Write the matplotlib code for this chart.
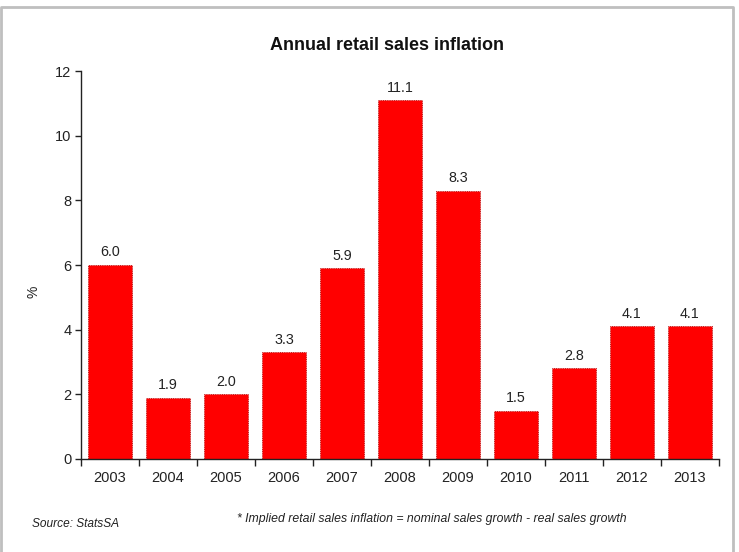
import matplotlib
matplotlib.use("Agg")
import matplotlib.pyplot as plt
from matplotlib.lines import Line2D
from matplotlib.ticker import FixedLocator, NullFormatter

years = ["2003", "2004", "2005", "2006", "2007", "2008", "2009", "2010", "2011", "2012", "2013"]
inflation = [6.0, 1.9, 2.0, 3.3, 5.9, 11.1, 8.3, 1.5, 2.8, 4.1, 4.1]
y_ticks = [0, 2, 4, 6, 8, 10, 12]

plt.rcParams["font.family"] = ["Liberation Sans", "DejaVu Sans"]

W, H = 739, 552
fig = plt.figure(figsize=(W / 100, H / 100), dpi=100)
ax = fig.add_axes([81 / W, 1 - 459 / H, (719 - 81) / W, (459 - 71) / H])

x = list(range(len(years)))
ax.bar(x, inflation, width=0.77, color="#ff0000",
       edgecolor="#a00000", linewidth=0.6, linestyle=":")

for xi, v in zip(x, inflation):
    ax.annotate(f"{v:.1f}", (xi, v), xytext=(0, 4), textcoords="offset points",
                ha="center", va="bottom", fontsize=10.3, color="#222222")

ax.set_xlim(-0.5, len(years) - 0.5)
ax.set_ylim(0, 12)
ax.set_yticks(y_ticks)
ax.set_yticklabels([str(t) for t in y_ticks])

# category boundaries as major ticks, labels centred on minor ticks
ax.xaxis.set_major_locator(FixedLocator([i - 0.5 for i in range(len(years) + 1)]))
ax.xaxis.set_major_formatter(NullFormatter())
ax.xaxis.set_minor_locator(FixedLocator(x))
ax.set_xticklabels(years, minor=True)
ax.tick_params(axis="x", which="major", length=5, width=1, direction="out", color="#222222")
ax.tick_params(axis="x", which="minor", length=0, pad=9, labelsize=10.5, labelcolor="#222222")
ax.tick_params(axis="y", length=4, width=1, direction="out", pad=3,
               labelsize=10.5, labelcolor="#222222", color="#222222")

for s in ("top", "right"):
    ax.spines[s].set_visible(False)
for s in ("left", "bottom"):
    ax.spines[s].set_color("#222222")
    ax.spines[s].set_linewidth(1.0)

fig.text(33 / W, 1 - 292 / H, "%", rotation=90, ha="center", va="center",
         fontsize=10, color="#222222")

fig.text(387 / W, 1 - 45 / H, "Annual retail sales inflation",
         ha="center", va="center", fontsize=13, fontweight="bold",
         color="#111111")

fig.text(32 / W, 1 - 524 / H, "Source: StatsSA", ha="left", va="center",
         fontsize=8.6, style="italic", color="#222222")
fig.text(237 / W, 1 - 519 / H,
         "* Implied retail sales inflation = nominal sales growth - real sales growth",
         ha="left", va="center", fontsize=8.8, style="italic", color="#222222")

# light grey frame around the chart area, open at the bottom
frame = Line2D([1 / W, 1 / W, 733 / W, 733 / W],
               [0, 1 - 7 / H, 1 - 7 / H, 0],
               transform=fig.transFigure, color="#bfbfbf", linewidth=2)
fig.add_artist(frame)

fig.savefig("out.png", dpi=100)
